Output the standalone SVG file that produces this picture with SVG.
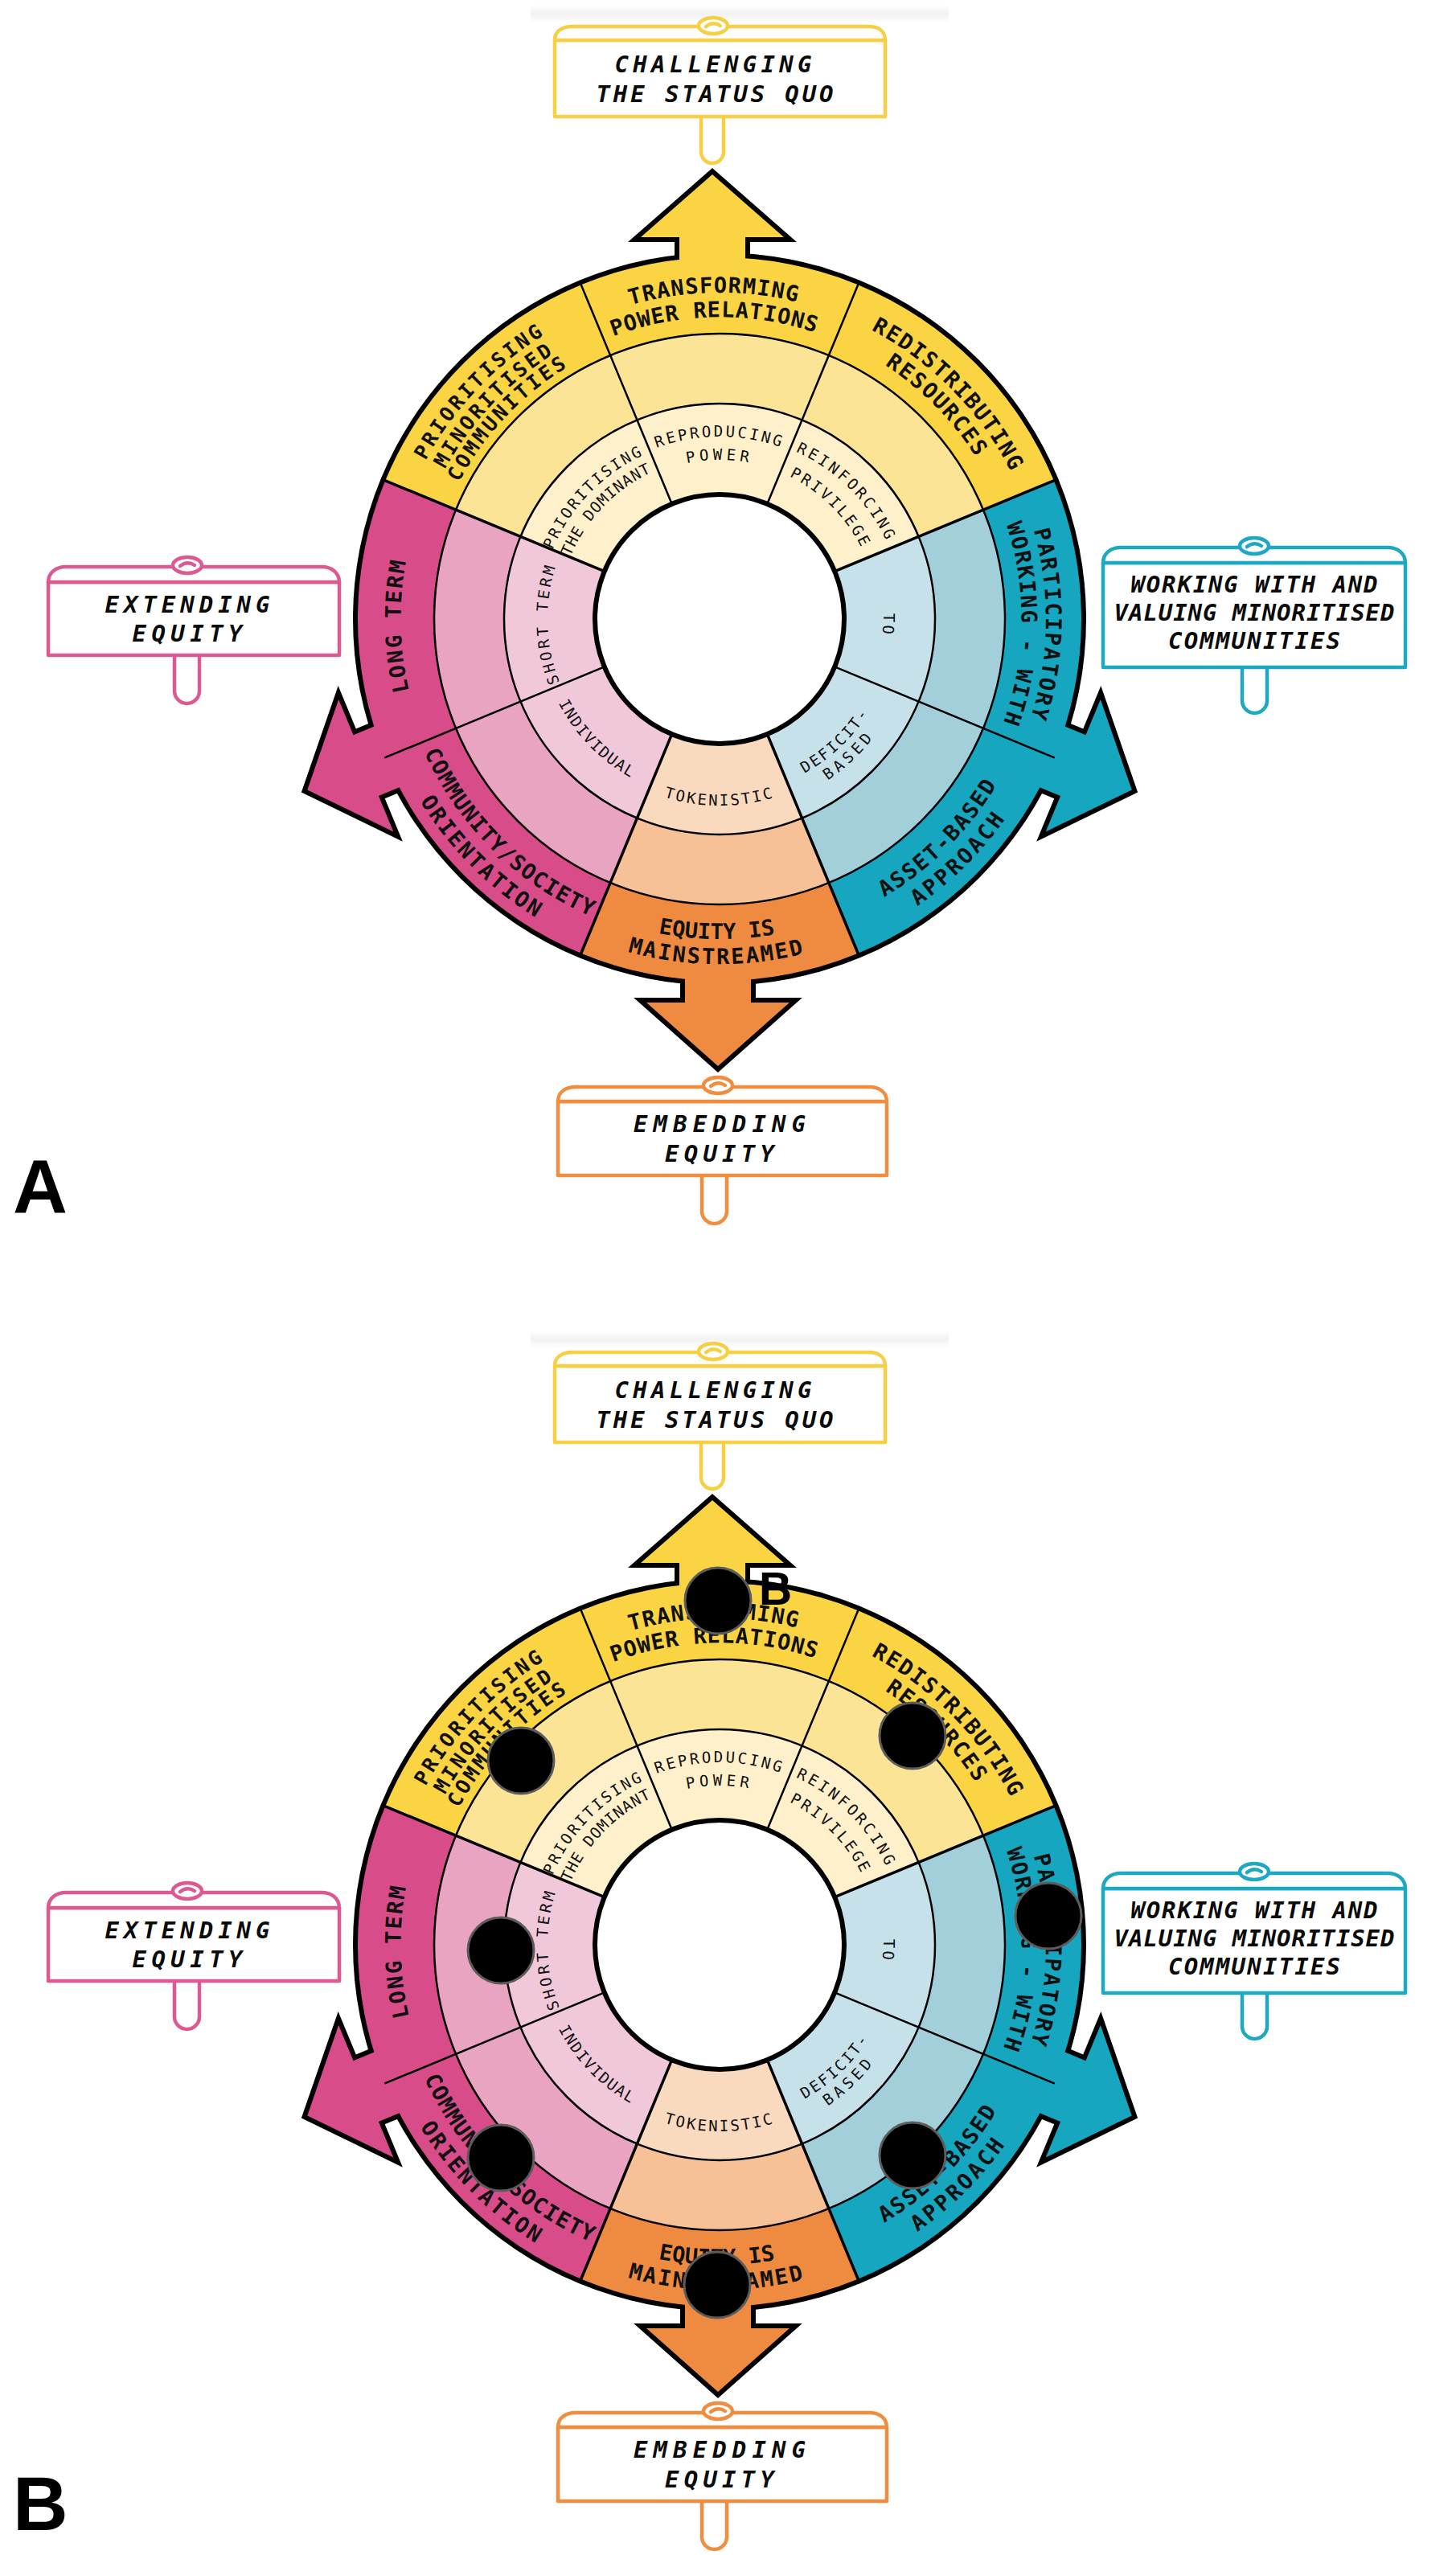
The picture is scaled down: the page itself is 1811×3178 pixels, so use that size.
<svg xmlns="http://www.w3.org/2000/svg" xmlns:xlink="http://www.w3.org/1999/xlink" width="1811" height="3178" viewBox="0 0 1811 3178">
<defs>
<style>
.lo{font-family:"DejaVu Sans Mono",monospace;font-weight:bold;font-size:27px;fill:#111}
.lo3{font-family:"DejaVu Sans Mono",monospace;font-weight:bold;font-size:25px;fill:#111}
.li{font-family:"DejaVu Sans Mono",monospace;font-size:19px;fill:#111}
.sg{font-family:"DejaVu Sans Mono",monospace;font-weight:bold;font-style:italic;font-size:29px;fill:#0b0b0b}
.pl{font-family:"Liberation Sans",Arial,sans-serif;font-weight:bold;fill:#000}
.dv{stroke:#000;stroke-width:2.5;stroke-linecap:round}
.dg{stroke:#000;stroke-width:3.5;stroke-linecap:round}
.ring{fill:none;stroke:#000;stroke-width:2.5}
.sign path,.sign ellipse{fill:#fff;stroke-width:4.5;stroke-linejoin:round;stroke-linecap:round}
.sign .curl{fill:none}
.arrow-o{stroke:#000;stroke-width:12;stroke-linejoin:miter}
.dot{fill:#000;stroke:#5c5c5c;stroke-width:3}
.yo{fill:#FBD443}.ym{fill:#FCE496}.yi{fill:#FEF0CB}
.to{fill:#16A6C0}.tm{fill:#A3CFDB}.ti{fill:#C7E1EA}
.oo{fill:#EE8B40}.om{fill:#F6C196}.oi{fill:#FADABE}
.po{fill:#D84D89}.pm{fill:#E9A4C1}.pi{fill:#F0C8D9}
</style>
<linearGradient id="fade" x1="0" y1="0" x2="0" y2="1">
<stop offset="0" stop-color="#000" stop-opacity="0"/>
<stop offset="0.5" stop-color="#000" stop-opacity="0.05"/>
<stop offset="1" stop-color="#000" stop-opacity="0"/>
</linearGradient>
<path id="p1" d="M489.06 777.08 A406 406 0 0 1 1300.94 762.92"/>
<path id="p2" d="M518.06 776.58 A377 377 0 0 1 1271.94 763.42"/>
<path id="p3" d="M610.43 480.42 A406 406 0 0 1 1179.57 1059.58"/>
<path id="p4" d="M630.76 501.10 A377 377 0 0 1 1159.24 1038.90"/>
<path id="p5" d="M902.08 364.06 A406 406 0 0 1 887.92 1175.94"/>
<path id="p6" d="M901.58 393.06 A377 377 0 0 1 888.42 1146.94"/>
<path id="p7" d="M903.33 1167.91 A398 398 0 0 1 886.67 372.09"/>
<path id="p8" d="M607.96 1072.48 A417 417 0 0 1 1182.04 467.52"/>
<path id="p9" d="M625.86 1053.62 A391 391 0 0 1 1164.14 486.38"/>
<path id="p10" d="M643.06 1035.49 A366 366 0 0 1 1146.94 504.51"/>
<path id="p11" d="M610.74 1054.26 A402 402 0 0 0 1179.26 485.74"/>
<path id="p12" d="M587.41 1077.59 A435 435 0 0 0 1202.59 462.41"/>
<path id="p13" d="M495.02 766.51 A400 400 0 0 0 1294.98 773.49"/>
<path id="p14" d="M464.02 766.24 A431 431 0 0 0 1325.98 773.76"/>
<path id="p15" d="M607.56 487.53 A403 403 0 0 0 1182.44 1052.47"/>
<path id="p16" d="M586.70 461.70 A436 436 0 0 0 1203.30 1078.30"/>
<path id="q1" d="M738.70 931.85 A225 225 0 0 1 1051.30 608.15"/>
<path id="q2" d="M755.37 914.59 A201 201 0 0 1 1034.63 625.41"/>
<path id="q3" d="M668 770 A227 227 0 0 1 1122 770"/>
<path id="q4" d="M697 770 A198 198 0 0 1 1093 770"/>
<path id="q5" d="M733.07 608.07 A229 229 0 0 1 1056.93 931.93"/>
<path id="q6" d="M754.29 629.29 A199 199 0 0 1 1035.71 910.71"/>
<path id="q7" d="M902.15 565.13 A205 205 0 0 1 887.85 974.87"/>
<path id="q8" d="M900.97 983.92 A214 214 0 0 1 889.03 556.08"/>
<path id="q9" d="M736.14 920.75 A219 219 0 0 0 1053.86 619.25"/>
<path id="q10" d="M718.74 937.27 A243 243 0 0 0 1071.26 602.73"/>
<path id="q11" d="M663 770 A232 232 0 0 0 1127 770"/>
<path id="q12" d="M736.45 607.55 A227 227 0 0 0 1053.55 932.45"/>
</defs>
<rect width="1811" height="3178" fill="#fff"/>

<g id="panelA">
  <rect x="660" y="6" width="520" height="22" fill="url(#fade)"/>

  <g id="connectors">
    <circle cx="895" cy="770" r="456" fill="#000"/>
    <g class="arrow-o" fill="none">
      <polygon points="845,370 845,295 797,295 886,217 975,295 927,295 927,370"/>
      <polygon points="852,1170 852,1247 804,1247 893,1326 982,1247 934,1247 934,1170"/>
      <polygon points="541.14,960.95 470.92,990.04 489.29,1034.39 382.25,982.39 421.17,869.93 439.54,914.28 509.76,885.19"/>
      <polygon points="1280.24,885.19 1350.46,914.28 1368.83,869.93 1407.75,982.39 1300.71,1034.39 1319.08,990.04 1248.86,960.95"/>
    </g>
    <polygon id="arrow-up" class="yo" points="845,370 845,295 797,295 886,217 975,295 927,295 927,370"/>
    <polygon id="arrow-down" class="oo" points="852,1170 852,1247 804,1247 893,1326 982,1247 934,1247 934,1170"/>
    <polygon id="arrow-left" class="po" points="541.14,960.95 470.92,990.04 489.29,1034.39 382.25,982.39 421.17,869.93 439.54,914.28 509.76,885.19"/>
    <polygon id="arrow-right" class="to" points="1280.24,885.19 1350.46,914.28 1368.83,869.93 1407.75,982.39 1300.71,1034.39 1319.08,990.04 1248.86,960.95"/>
  </g>

  <g id="wheel">
    <g id="seg-transforming">
      <path class="yo" d="M722.79 354.25 A450 450 0 0 1 1067.21 354.25 L1030.85 442.02 A355 355 0 0 0 759.15 442.02 Z"/>
      <path class="ym" d="M759.15 442.02 A355 355 0 0 1 1030.85 442.02 L997.56 522.40 A268 268 0 0 0 792.44 522.40 Z"/>
      <path class="yi" d="M792.44 522.40 A268 268 0 0 1 997.56 522.40 L952.40 631.42 A150 150 0 0 0 837.60 631.42 Z"/>
    </g>
    <g id="seg-redistributing">
      <path class="yo" d="M1067.21 354.25 A450 450 0 0 1 1310.75 597.79 L1222.98 634.15 A355 355 0 0 0 1030.85 442.02 Z"/>
      <path class="ym" d="M1030.85 442.02 A355 355 0 0 1 1222.98 634.15 L1142.60 667.44 A268 268 0 0 0 997.56 522.40 Z"/>
      <path class="yi" d="M997.56 522.40 A268 268 0 0 1 1142.60 667.44 L1033.58 712.60 A150 150 0 0 0 952.40 631.42 Z"/>
    </g>
    <g id="seg-participatory">
      <path class="to" d="M1310.75 597.79 A450 450 0 0 1 1310.75 942.21 L1222.98 905.85 A355 355 0 0 0 1222.98 634.15 Z"/>
      <path class="tm" d="M1222.98 634.15 A355 355 0 0 1 1222.98 905.85 L1142.60 872.56 A268 268 0 0 0 1142.60 667.44 Z"/>
      <path class="ti" d="M1142.60 667.44 A268 268 0 0 1 1142.60 872.56 L1033.58 827.40 A150 150 0 0 0 1033.58 712.60 Z"/>
    </g>
    <g id="seg-asset">
      <path class="to" d="M1310.75 942.21 A450 450 0 0 1 1067.21 1185.75 L1030.85 1097.98 A355 355 0 0 0 1222.98 905.85 Z"/>
      <path class="tm" d="M1222.98 905.85 A355 355 0 0 1 1030.85 1097.98 L997.56 1017.60 A268 268 0 0 0 1142.60 872.56 Z"/>
      <path class="ti" d="M1142.60 872.56 A268 268 0 0 1 997.56 1017.60 L952.40 908.58 A150 150 0 0 0 1033.58 827.40 Z"/>
    </g>
    <g id="seg-mainstreamed">
      <path class="oo" d="M1067.21 1185.75 A450 450 0 0 1 722.79 1185.75 L759.15 1097.98 A355 355 0 0 0 1030.85 1097.98 Z"/>
      <path class="om" d="M1030.85 1097.98 A355 355 0 0 1 759.15 1097.98 L792.44 1017.60 A268 268 0 0 0 997.56 1017.60 Z"/>
      <path class="oi" d="M997.56 1017.60 A268 268 0 0 1 792.44 1017.60 L837.60 908.58 A150 150 0 0 0 952.40 908.58 Z"/>
    </g>
    <g id="seg-community">
      <path class="po" d="M722.79 1185.75 A450 450 0 0 1 479.25 942.21 L567.02 905.85 A355 355 0 0 0 759.15 1097.98 Z"/>
      <path class="pm" d="M759.15 1097.98 A355 355 0 0 1 567.02 905.85 L647.40 872.56 A268 268 0 0 0 792.44 1017.60 Z"/>
      <path class="pi" d="M792.44 1017.60 A268 268 0 0 1 647.40 872.56 L756.42 827.40 A150 150 0 0 0 837.60 908.58 Z"/>
    </g>
    <g id="seg-longterm">
      <path class="po" d="M479.25 942.21 A450 450 0 0 1 479.25 597.79 L567.02 634.15 A355 355 0 0 0 567.02 905.85 Z"/>
      <path class="pm" d="M567.02 905.85 A355 355 0 0 1 567.02 634.15 L647.40 667.44 A268 268 0 0 0 647.40 872.56 Z"/>
      <path class="pi" d="M647.40 872.56 A268 268 0 0 1 647.40 667.44 L756.42 712.60 A150 150 0 0 0 756.42 827.40 Z"/>
    </g>
    <g id="seg-prioritising">
      <path class="yo" d="M479.25 597.79 A450 450 0 0 1 722.79 354.25 L759.15 442.02 A355 355 0 0 0 567.02 634.15 Z"/>
      <path class="ym" d="M567.02 634.15 A355 355 0 0 1 759.15 442.02 L792.44 522.40 A268 268 0 0 0 647.40 667.44 Z"/>
      <path class="yi" d="M647.40 667.44 A268 268 0 0 1 792.44 522.40 L837.60 631.42 A150 150 0 0 0 756.42 712.60 Z"/>
    </g>
    <circle class="ring" cx="895" cy="770" r="355"/>
    <circle class="ring" cx="895" cy="770" r="268"/>
    <line class="dv" x1="954.32" y1="626.80" x2="1067.21" y2="354.25"/>
    <line class="dv" x1="835.68" y1="626.80" x2="722.79" y2="354.25"/>
    <line class="dg" x1="1038.20" y1="710.68" x2="1310.75" y2="597.79"/>
    <line class="dg" x1="751.80" y1="710.68" x2="479.25" y2="597.79"/>
    <line class="dv" x1="1038.20" y1="829.32" x2="1310.75" y2="942.21"/>
    <line class="dv" x1="751.80" y1="829.32" x2="479.25" y2="942.21"/>
    <line class="dg" x1="954.32" y1="913.20" x2="1067.21" y2="1185.75"/>
    <line class="dg" x1="835.68" y1="913.20" x2="722.79" y2="1185.75"/>
    <circle cx="895" cy="770" r="155" fill="#fff" stroke="#000" stroke-width="6"/>

    <g id="labels-outer" text-anchor="middle">
      <text class="lo" style="letter-spacing:1.3px"><textPath href="#p1" startOffset="50%">TRANSFORMING</textPath></text>
      <text class="lo" style="letter-spacing:0.9px"><textPath href="#p2" startOffset="50%">POWER RELATIONS</textPath></text>
      <text class="lo" style="letter-spacing:1.8px"><textPath href="#p3" startOffset="50%">REDISTRIBUTING</textPath></text>
      <text class="lo" style="letter-spacing:2px"><textPath href="#p4" startOffset="50%">RESOURCES</textPath></text>
      <text class="lo" style="letter-spacing:2.1px"><textPath href="#p5" startOffset="50%">PARTICIPATORY</textPath></text>
      <text class="lo" style="letter-spacing:1.8px"><textPath href="#p6" startOffset="50%">WORKING - WITH</textPath></text>
      <text class="lo" style="letter-spacing:2px"><textPath href="#p7" startOffset="50%">LONG TERM</textPath></text>
      <text class="lo3" style="letter-spacing:3.3px"><textPath href="#p8" startOffset="50%">PRIORITISING</textPath></text>
      <text class="lo3" style="letter-spacing:3.3px"><textPath href="#p9" startOffset="50%">MINORITISED</textPath></text>
      <text class="lo3" style="letter-spacing:3.4px"><textPath href="#p10" startOffset="50%">COMMUNITIES</textPath></text>
      <text class="lo" style="letter-spacing:2.1px"><textPath href="#p11" startOffset="50%">ASSET-BASED</textPath></text>
      <text class="lo" style="letter-spacing:3.5px"><textPath href="#p12" startOffset="50%">APPROACH</textPath></text>
      <text class="lo" style="letter-spacing:0px"><textPath href="#p13" startOffset="50%">EQUITY IS</textPath></text>
      <text class="lo" style="letter-spacing:2.4px"><textPath href="#p14" startOffset="50%">MAINSTREAMED</textPath></text>
      <text class="lo" style="letter-spacing:1.3px"><textPath href="#p15" startOffset="50%">COMMUNITY/SOCIETY</textPath></text>
      <text class="lo" style="letter-spacing:2.7px"><textPath href="#p16" startOffset="50%">ORIENTATION</textPath></text>
    </g>
    <g id="labels-inner" text-anchor="middle">
      <text class="li" style="letter-spacing:2.6px"><textPath href="#q1" startOffset="50%">PRIORITISING</textPath></text>
      <text class="li" style="letter-spacing:1px"><textPath href="#q2" startOffset="50%">THE DOMINANT</textPath></text>
      <text class="li" style="letter-spacing:3.1px"><textPath href="#q3" startOffset="50%">REPRODUCING</textPath></text>
      <text class="li" style="letter-spacing:5px"><textPath href="#q4" startOffset="50%">POWER</textPath></text>
      <text class="li" style="letter-spacing:3.5px"><textPath href="#q5" startOffset="50%">REINFORCING</textPath></text>
      <text class="li" style="letter-spacing:3.1px"><textPath href="#q6" startOffset="50%">PRIVILEGE</textPath></text>
      <text class="li" style="letter-spacing:3px"><textPath href="#q7" startOffset="50%">TO</textPath></text>
      <text class="li" style="letter-spacing:3.5px"><textPath href="#q8" startOffset="50%">SHORT TERM</textPath></text>
      <text class="li" style="letter-spacing:2.6px"><textPath href="#q9" startOffset="50%">DEFICIT-</textPath></text>
      <text class="li" style="letter-spacing:4.9px"><textPath href="#q10" startOffset="50%">BASED</textPath></text>
      <text class="li" style="letter-spacing:2.6px"><textPath href="#q11" startOffset="50%">TOKENISTIC</textPath></text>
      <text class="li" style="letter-spacing:1.8px"><textPath href="#q12" startOffset="50%">INDIVIDUAL</textPath></text>
    </g>
  </g>

  <g id="sign-top" class="sign" stroke="#F7CF45">
    <path d="M872 145 L872 189 A14 14 0 0 0 900 189 L900 145"/>
    <path d="M690 50 L690 145 L1101 145 L1101 50 Z"/>
    <path d="M690 50 C690 38 700 33 712 33 L1080 33 C1092 33 1101 38 1101 50 Z"/>
    <ellipse cx="887" cy="32" rx="18" ry="10"/>
    <path class="curl" d="M878 33 Q887 26 896 32"/>
    <text class="sg" x="887" y="90" text-anchor="middle" textLength="245" lengthAdjust="spacing" stroke="none">CHALLENGING</text>
    <text class="sg" x="889" y="127" text-anchor="middle" textLength="295" lengthAdjust="spacing" stroke="none">THE STATUS QUO</text>
  </g>
  <g id="sign-left" class="sign" stroke="#DB5A92">
    <path d="M217 815 L217 859.5 A15.5 15.5 0 0 0 248 859.5 L248 815"/>
    <path d="M60 724 L60 815 L422 815 L422 724 Z"/>
    <path d="M60 724 C60 712 70 705 82 705 L400 705 C412 705 422 712 422 724 Z"/>
    <ellipse cx="233" cy="703" rx="18" ry="10"/>
    <path class="curl" d="M224 704 Q233 697 242 703"/>
    <text class="sg" x="233" y="762" text-anchor="middle" textLength="205" lengthAdjust="spacing" stroke="none">EXTENDING</text>
    <text class="sg" x="233" y="798" text-anchor="middle" textLength="137" lengthAdjust="spacing" stroke="none">EQUITY</text>
  </g>
  <g id="sign-right" class="sign" stroke="#1EA8C2">
    <path d="M1545 830 L1545 871.5 A15.5 15.5 0 0 0 1576 871.5 L1576 830"/>
    <path d="M1372 700 L1372 830 L1748 830 L1748 700 Z"/>
    <path d="M1372 700 C1372 688 1382 681 1394 681 L1726 681 C1738 681 1748 688 1748 700 Z"/>
    <ellipse cx="1560" cy="679" rx="18" ry="10"/>
    <path class="curl" d="M1551 680 Q1560 673 1569 679"/>
    <text class="sg" x="1560" y="737" text-anchor="middle" textLength="307" lengthAdjust="spacing" stroke="none">WORKING WITH AND</text>
    <text class="sg" x="1560" y="772" text-anchor="middle" textLength="349" lengthAdjust="spacing" stroke="none">VALUING MINORITISED</text>
    <text class="sg" x="1560" y="807" text-anchor="middle" textLength="214" lengthAdjust="spacing" stroke="none">COMMUNITIES</text>
  </g>
  <g id="sign-bottom" class="sign" stroke="#F08D3F">
    <path d="M873 1462 L873 1506.5 A15.5 15.5 0 0 0 904 1506.5 L904 1462"/>
    <path d="M694 1370 L694 1462 L1103 1462 L1103 1370 Z"/>
    <path d="M694 1370 C694 1358 704 1352 716 1352 L1081 1352 C1093 1352 1103 1358 1103 1370 Z"/>
    <ellipse cx="893" cy="1350" rx="18" ry="10"/>
    <path class="curl" d="M884 1351 Q893 1344 902 1350"/>
    <text class="sg" x="895" y="1408" text-anchor="middle" textLength="214" lengthAdjust="spacing" stroke="none">EMBEDDING</text>
    <text class="sg" x="895" y="1445" text-anchor="middle" textLength="136" lengthAdjust="spacing" stroke="none">EQUITY</text>
  </g>
</g>

<use id="panelB" href="#panelA" xlink:href="#panelA" x="0" y="1649"/>

<g id="panelB-markers">
  <circle class="dot" cx="893" cy="1991" r="41"/>
  <circle class="dot" cx="648" cy="2190" r="41"/>
  <circle class="dot" cx="1135" cy="2159" r="41"/>
  <circle class="dot" cx="623" cy="2426" r="41"/>
  <circle class="dot" cx="1304" cy="2383" r="41"/>
  <circle class="dot" cx="623" cy="2684" r="41"/>
  <circle class="dot" cx="1135" cy="2681" r="41"/>
  <circle class="dot" cx="892" cy="2842" r="41"/>
  <text class="pl" x="944" y="1996" font-size="57">B</text>
</g>

<text id="label-A" class="pl" x="16" y="1509" font-size="94">A</text>
<text id="label-B" class="pl" x="16" y="3147" font-size="95">B</text>
</svg>
